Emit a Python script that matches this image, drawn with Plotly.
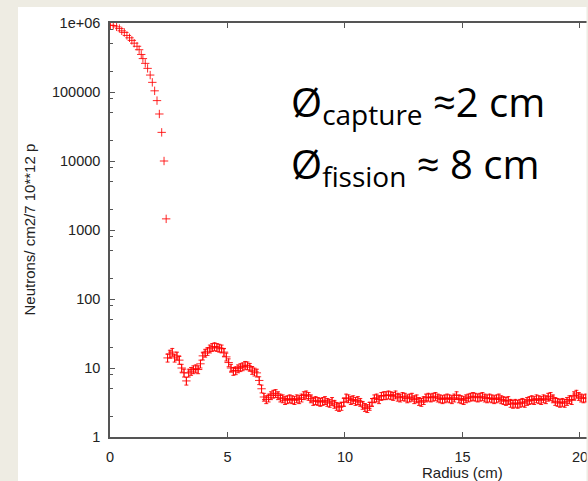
import plotly.graph_objects as go

# ---- data ----
radius_core = [0.02, 0.14, 0.28, 0.40, 0.50, 0.61, 0.72, 0.83, 0.93, 1.03, 1.15, 1.24,
               1.33, 1.40, 1.50, 1.60, 1.71, 1.80, 1.90, 2.00, 2.10, 2.20, 2.30, 2.39]
flux_core = [9.3e5, 9.2e5, 8.8e5, 8.3e5, 7.7e5, 7.3e5, 6.6e5, 6.1e5, 5.6e5, 5.1e5, 4.6e5, 4.1e5,
             3.5e5, 3.05e5, 2.6e5, 2.2e5, 1.76e5, 1.38e5, 1.04e5, 7.5e4, 4.8e4, 2.6e4, 1.0e4, 1.45e3]

radius_tail = [
    2.45, 2.55, 2.65, 2.75, 2.85, 2.95, 3.05, 3.15, 3.25, 3.35,
    3.45, 3.55, 3.65, 3.75, 3.85, 3.95, 4.05, 4.15, 4.25, 4.35,
    4.45, 4.55, 4.65, 4.75, 4.85, 4.95, 5.05, 5.15, 5.25, 5.35,
    5.45, 5.55, 5.65, 5.75, 5.85, 5.95, 6.05, 6.15, 6.25, 6.35,
    6.45, 6.55, 6.65, 6.75, 6.85, 6.95, 7.05, 7.15, 7.25, 7.35,
    7.45, 7.55, 7.65,
    7.75, 7.85, 7.95, 8.05, 8.15, 8.25, 8.35, 8.45, 8.55, 8.65,
    8.75, 8.85, 8.95, 9.05, 9.15, 9.25, 9.35, 9.45, 9.55, 9.65,
    9.75, 9.85, 9.95, 10.05, 10.15, 10.25, 10.35, 10.45, 10.55, 10.65,
    10.75, 10.85, 10.95, 11.05, 11.15, 11.25, 11.35, 11.45, 11.55, 11.65,
    11.75, 11.85, 11.95, 12.05, 12.15, 12.25, 12.35, 12.45, 12.55, 12.65,
    12.75, 12.85, 12.95, 13.05, 13.15, 13.25, 13.35, 13.45, 13.55, 13.65,
    13.75, 13.85, 13.95, 14.05, 14.15, 14.25, 14.35, 14.45, 14.55, 14.65,
    14.75, 14.85, 14.95, 15.05, 15.15, 15.25, 15.35, 15.45, 15.55, 15.65,
    15.75, 15.85, 15.95, 16.05, 16.15, 16.25, 16.35, 16.45, 16.55, 16.65,
    16.75, 16.85, 16.95, 17.05, 17.15, 17.25, 17.35, 17.45, 17.55, 17.65,
    17.75, 17.85, 17.95, 18.05, 18.15, 18.25, 18.35, 18.45, 18.55, 18.65,
    18.75, 18.85, 18.95, 19.05, 19.15, 19.25, 19.35, 19.45, 19.55, 19.65,
    19.75, 19.85, 19.95, 20.05, 20.15, 20.25,
]
flux_tail = [
    14, 16, 17, 14, 15, 13, 10, 8.5, 6.5, 8.5,
    9.0, 9.5, 9.8, 9.5, 11.5, 15, 16.5, 17.5, 19, 20,
    20.5, 20, 19.5, 19, 17, 14.5, 12, 10, 9, 9.2,
    9.8, 10.2, 10.5, 11, 10.8, 10.3, 9.3, 8.8, 8.5, 6.6,
    5.0, 3.8, 3.5, 3.7, 4.0, 4.2, 4.3, 4.0, 3.7, 3.6,
    3.4, 3.5, 3.6,
    3.5, 3.4, 3.6, 3.5, 3.7, 4.0, 4.1, 3.9, 3.6, 3.3,
    3.4, 3.3, 3.2, 3.3, 3.4, 3.2, 3.1, 3.3, 3.0, 2.8,
    2.7, 2.8, 3.2, 3.7, 3.6, 3.4, 3.5, 3.3, 3.4, 3.2,
    2.9, 2.7, 2.6, 2.8, 3.2, 3.6, 3.7, 3.5, 3.9, 4.0,
    4.0, 4.1, 4.0, 3.9, 4.1, 3.8, 3.7, 3.9, 3.8, 3.6,
    3.7, 3.8, 3.5, 3.6, 3.3, 3.2, 3.4, 3.7, 3.8, 3.7,
    3.8, 3.9, 3.7, 3.6, 3.5, 3.6, 3.7, 3.6, 3.5, 3.7,
    4.0, 3.6, 3.5, 3.4, 3.6, 3.7, 3.8, 3.9, 3.8, 3.7,
    3.8, 3.9, 3.7, 3.6, 3.7, 3.6, 3.5, 3.6, 3.7, 3.5,
    3.4, 3.3, 3.4, 3.1, 3.0, 3.1, 3.0, 3.1, 3.2, 3.1,
    3.3, 3.4, 3.5, 3.4, 3.6, 3.5, 3.4, 3.6, 3.5, 3.8,
    3.9, 3.6, 3.3, 3.2, 3.1, 3.2, 3.1, 3.3, 3.5, 3.4,
    4.0, 4.2, 3.9, 3.7, 3.6, 3.7,
]

y_tickvals = [1, 10, 100, 1000, 10000, 100000, 1000000]
y_ticktext = ["1", "10", "100", "1000", "10000", "100000", "1e+06"]
x_tickvals = [0, 5, 10, 15, 20]

y_title = "Neutrons/ cm2/7 10**12 p"
x_title = "Radius (cm)"
line1 = "Ø<sub>capture</sub> ≈2 cm"
line2 = "Ø<sub>fission</sub> ≈ 8 cm"

RED = "rgba(255,0,0,0.85)"
BEIGE = "#EEECE3"
AXIS = "#555555"
TICKFONT = dict(family="Liberation Sans, Arial, sans-serif", size=14.5, color="#222")

fig = go.Figure()
fig.add_trace(go.Scatter(
    x=radius_core, y=flux_core, mode="markers",
    marker=dict(symbol="cross-thin", size=6, line=dict(width=1, color=RED), color=RED),
    showlegend=False, hoverinfo="x+y",
))
fig.add_trace(go.Scatter(
    x=radius_tail, y=flux_tail, mode="markers",
    marker=dict(symbol="cross-thin", size=6, line=dict(width=1, color=RED), color=RED),
    error_y=dict(type="percent", value=13, color=RED, thickness=1, width=2),
    showlegend=False, hoverinfo="x+y",
))

W, H = 588, 481
L, R, T, B = 110, 1, 23, 44
pw, ph = W - L - R, H - T - B

def px(xpix):
    return (xpix - L) / pw

def py(ypix):
    return (H - B - ypix) / ph

shapes = [
    # white slide panel
    dict(type="rect", xref="paper", yref="paper", layer="below",
         x0=px(18), x1=px(587), y0=py(481), y1=py(7),
         fillcolor="white", line=dict(width=0)),
    # beige strip at the right edge (crops the chart like the reference)
    dict(type="rect", xref="paper", yref="paper", layer="above",
         x0=px(586.5), x1=px(590), y0=py(481), y1=py(0),
         fillcolor=BEIGE, line=dict(width=0)),
]

annotations = [
    dict(text=y_title, xref="paper", yref="paper", x=px(28.5), y=0.5,
         textangle=-90, showarrow=False, xanchor="center", yanchor="middle",
         font=dict(family="Liberation Sans, Arial, sans-serif", size=15, color="#222")),
    dict(text=x_title, xref="x", yref="paper", x=15, y=py(472),
         showarrow=False, xanchor="center", yanchor="middle",
         font=dict(family="Liberation Sans, Arial, sans-serif", size=15, color="#222")),
    dict(text=line1, xref="paper", yref="paper", x=px(289), y=py(104),
         showarrow=False, xanchor="left", yanchor="middle",
         font=dict(family="Open Sans, sans-serif", size=40, color="black")),
    dict(text=line2, xref="paper", yref="paper", x=px(289), y=py(165),
         showarrow=False, xanchor="left", yanchor="middle",
         font=dict(family="Open Sans, sans-serif", size=40, color="black")),
]

fig.update_layout(
    width=W, height=H,
    margin=dict(l=L, r=R, t=T, b=B, pad=0),
    paper_bgcolor=BEIGE, plot_bgcolor="white",
    shapes=shapes, annotations=annotations,
    xaxis=dict(range=[0, 20.3], tickvals=x_tickvals, ticks="inside", ticklen=5,
               tickcolor=AXIS, tickwidth=1.2, showline=True, linecolor=AXIS, linewidth=1.5,
               mirror="ticks", showgrid=False, zeroline=False, tickfont=TICKFONT,
               ticklabelstandoff=6, ticklabeloverflow="allow"),
    yaxis=dict(type="log", range=[0, 6], tickvals=y_tickvals, ticktext=y_ticktext,
               ticks="inside", ticklen=5, tickcolor=AXIS, tickwidth=1.2,
               showline=True, linecolor=AXIS, linewidth=1.5, mirror=False,
               showgrid=False, zeroline=False, tickfont=TICKFONT, ticklabelstandoff=5,
               ticklabeloverflow="allow",
               minor=dict(ticks="inside", ticklen=3, tickcolor=AXIS, tickwidth=1,
                          tickvals=[2, 5, 8, 20, 50, 80, 200, 500, 800, 2000, 5000, 8000,
                                    20000, 50000, 80000, 200000, 500000, 800000],
                          showgrid=False)),
)

fig.write_html("out.html",
               config={"displayModeBar": False},
               post_script="document.body.style.margin='0';document.body.style.overflow='hidden';")
